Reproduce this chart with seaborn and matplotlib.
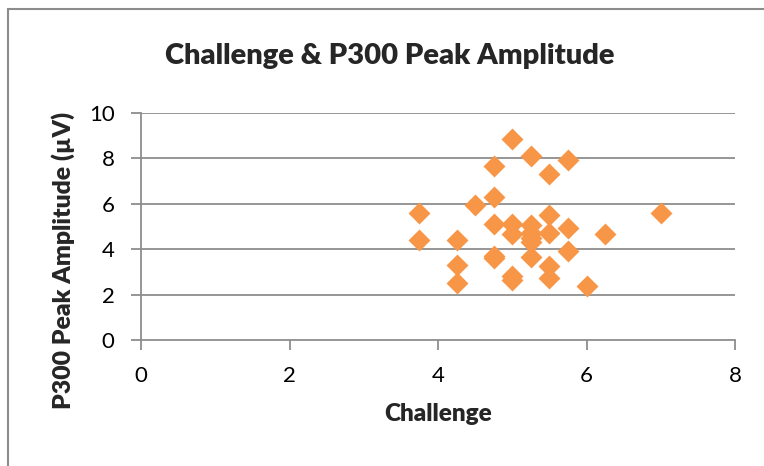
import matplotlib
matplotlib.use("Agg")
import matplotlib.pyplot as plt
from matplotlib.lines import Line2D
import seaborn as sns
import pandas as pd

# Challenge score and P300 peak amplitude (µV) per participant
challenge = [3.75, 3.75,
             4.25, 4.25, 4.25,
             4.5,
             4.75, 4.75, 4.75, 4.75, 4.75,
             5.0, 5.0, 5.0, 5.0, 5.0,
             5.25, 5.25, 5.25, 5.25, 5.25, 5.25,
             5.5, 5.5, 5.5, 5.5, 5.5,
             5.75, 5.75, 5.75,
             6.0, 6.25, 7.0]
amplitude = [5.6, 4.4,
             4.4, 3.3, 2.5,
             5.95,
             7.65, 6.3, 5.1, 3.7, 3.6,
             8.85, 5.1, 4.65, 2.8, 2.65,
             8.1, 5.05, 4.7, 4.5, 4.3, 3.65,
             7.3, 5.5, 4.7, 3.25, 2.75,
             7.95, 4.95, 3.9,
             2.4, 4.65, 5.6]
x_ticks = [0, 2, 4, 6, 8]
y_ticks = [0, 2, 4, 6, 8, 10]

df = pd.DataFrame({"Challenge": challenge, "Amplitude": amplitude})

sns.set_theme(style="white")
plt.rcParams["font.family"] = ["Lato", "DejaVu Sans"]

W, H = 764, 466
fig = plt.figure(figsize=(W / 100, H / 100), dpi=100)
fig.patch.set_facecolor("white")

# chart-area border (top and left edges)
border = "#8c8c8c"
fig.add_artist(Line2D([8 / W, 1], [1 - 9 / H, 1 - 9 / H], color=border, lw=1.5))
fig.add_artist(Line2D([8 / W, 8 / W], [0, 1 - 9 / H], color=border, lw=1.5))

ax = fig.add_axes([141 / W, (H - 340) / H, 594 / W, 227 / H])

grid_c = "#8e8e8e"
for yv in y_ticks[1:]:
    ax.axhline(yv, color=grid_c, lw=1.3, zorder=1)

sns.scatterplot(data=df, x="Challenge", y="Amplitude", marker="D", s=125,
                color="#F79646", linewidth=0, ax=ax, zorder=3, legend=False)

ax.set_xlim(0, 8)
ax.set_ylim(0, 10)
ax.set_xticks(x_ticks)
ax.set_yticks(y_ticks)
ax.set_xticklabels([str(v) for v in x_ticks])
ax.set_yticklabels([str(v) for v in y_ticks])

for side in ("top", "right"):
    ax.spines[side].set_visible(False)
for side in ("left", "bottom"):
    ax.spines[side].set_color(grid_c)
    ax.spines[side].set_linewidth(1.3)

ax.tick_params(axis="both", which="major", direction="out", length=7,
               width=1.3, color=grid_c, labelsize=16, labelcolor="black",
               bottom=True, left=True)
ax.tick_params(axis="x", pad=12)
ax.tick_params(axis="y", pad=12)

ax.set_xlabel("Challenge", fontsize=17.5, fontweight="heavy", labelpad=12)
ax.set_ylabel("")

# y-axis title placed in figure pixels, centred on its own box
fig.text(63 / W, 1 - 260 / H, "P300 Peak Amplitude (µV)", rotation=90,
         ha="center", va="center", fontsize=17.8, fontweight="heavy")

fig.text(390 / W, 1 - 56 / H, "Challenge & P300 Peak Amplitude",
         ha="center", va="center", fontsize=21, fontweight="heavy")

fig.savefig("out.png", dpi=100, facecolor="white")
